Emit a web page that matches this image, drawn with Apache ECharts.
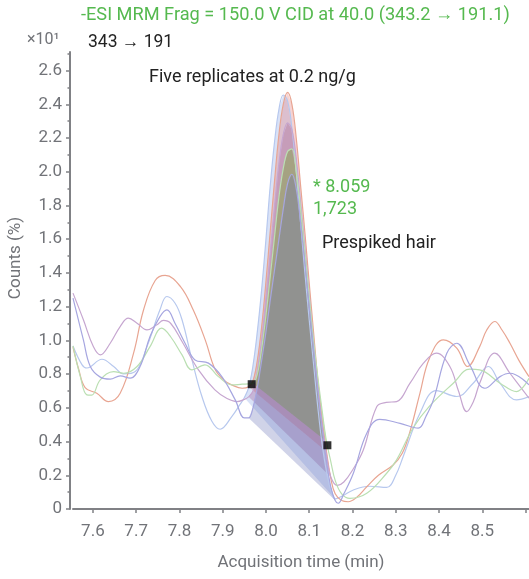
<!DOCTYPE html>
<html>
<head>
<meta charset="utf-8">
<style>
  html, body { margin: 0; padding: 0; background: #fff; }
  #chart-container { width: 529px; height: 579px; }
</style>
<script src="https://cdn.jsdelivr.net/npm/echarts@6/dist/echarts.min.js"></script>
</head>
<body>
<div id="chart-container"></div>
<script>
// five replicate traces, [acquisition time (min), counts (x10^1 %)]
var repRed = [
  [7.554, 0.96], [7.567, 0.83], [7.582, 0.72], [7.609, 0.686], [7.636, 0.637], [7.663, 0.686],
  [7.694, 0.924], [7.717, 1.18], [7.744, 1.355], [7.767, 1.385], [7.802, 1.32], [7.832, 1.18],
  [7.86, 1.0], [7.882, 0.83], [7.902, 0.766], [7.921, 0.736], [7.945, 0.716], [7.96, 0.725],
  [7.97, 0.76], [7.98, 0.88], [7.99, 1.08], [8.0, 1.35], [8.01, 1.65], [8.02, 1.95], [8.03, 2.22],
  [8.04, 2.4], [8.05, 2.47], [8.06, 2.4], [8.07, 2.2], [8.08, 1.92], [8.09, 1.64], [8.1, 1.34],
  [8.11, 1.05], [8.12, 0.76], [8.13, 0.52], [8.14, 0.34], [8.15, 0.18], [8.16, 0.09], [8.175, 0.05],
  [8.19, 0.043], [8.21, 0.07], [8.233, 0.132], [8.26, 0.2], [8.294, 0.261], [8.315, 0.33],
  [8.333, 0.46], [8.356, 0.687], [8.378, 0.894], [8.41, 1.003], [8.441, 0.954], [8.466, 0.845],
  [8.494, 0.963], [8.51, 1.06], [8.529, 1.112], [8.546, 1.06], [8.564, 0.983], [8.585, 0.88],
  [8.608, 0.785]
];
var repMauve = [
  [7.554, 1.28], [7.578, 1.122], [7.601, 0.963], [7.617, 0.914], [7.64, 0.983], [7.663, 1.082],
  [7.682, 1.132], [7.702, 1.102], [7.725, 1.062], [7.748, 1.092], [7.763, 1.118], [7.78, 1.1],
  [7.806, 0.993], [7.844, 0.825], [7.882, 0.706], [7.91, 0.655], [7.933, 0.637], [7.95, 0.65],
  [7.96, 0.665], [7.97, 0.7], [7.98, 0.82], [7.99, 1.0], [8.0, 1.25], [8.01, 1.52], [8.02, 1.8],
  [8.03, 2.05], [8.04, 2.22], [8.05, 2.29], [8.06, 2.25], [8.07, 2.08], [8.08, 1.82], [8.09, 1.55],
  [8.1, 1.27], [8.11, 0.98], [8.12, 0.72], [8.13, 0.5], [8.14, 0.32], [8.15, 0.19], [8.165, 0.14],
  [8.18, 0.16], [8.2, 0.23], [8.225, 0.35], [8.256, 0.607], [8.278, 0.632], [8.302, 0.637],
  [8.333, 0.746], [8.364, 0.865], [8.394, 0.924], [8.425, 0.845], [8.445, 0.7], [8.464, 0.578],
  [8.48, 0.64], [8.494, 0.746], [8.529, 0.924], [8.564, 0.805], [8.608, 0.657]
];
var repIndigo = [
  [7.554, 1.25], [7.578, 1.003], [7.594, 0.845], [7.617, 0.782], [7.64, 0.77], [7.663, 0.789],
  [7.686, 0.776], [7.709, 0.845], [7.732, 1.023], [7.755, 1.141], [7.771, 1.181], [7.79, 1.1],
  [7.813, 0.983], [7.836, 0.884], [7.867, 0.865], [7.898, 0.785], [7.929, 0.647], [7.95, 0.54],
  [7.96, 0.54], [7.97, 0.6], [7.98, 0.72], [7.99, 0.88], [8.0, 1.05], [8.01, 1.24], [8.02, 1.42],
  [8.03, 1.6], [8.04, 1.78], [8.05, 1.93], [8.06, 1.985], [8.07, 1.9], [8.08, 1.7], [8.09, 1.46],
  [8.1, 1.2], [8.11, 0.95], [8.12, 0.7], [8.13, 0.47], [8.14, 0.28], [8.15, 0.13], [8.16, 0.05],
  [8.167, 0.034], [8.18, 0.09], [8.202, 0.212], [8.233, 0.449], [8.263, 0.532], [8.31, 0.508],
  [8.352, 0.479], [8.37, 0.55], [8.387, 0.647], [8.418, 0.924], [8.441, 0.983], [8.471, 0.855],
  [8.506, 0.716], [8.541, 0.785], [8.564, 0.805], [8.608, 0.736]
];
var repBlue = [
  [7.554, 0.967], [7.575, 0.855], [7.586, 0.836], [7.621, 0.888], [7.648, 0.845], [7.671, 0.801],
  [7.698, 0.815], [7.725, 0.963], [7.755, 1.181], [7.771, 1.26], [7.79, 1.22], [7.806, 1.122],
  [7.829, 0.884], [7.852, 0.667], [7.875, 0.52], [7.894, 0.473], [7.921, 0.548], [7.94, 0.62],
  [7.95, 0.66], [7.96, 0.72], [7.97, 0.85], [7.98, 1.05], [7.99, 1.3], [8.0, 1.6], [8.01, 1.92],
  [8.02, 2.18], [8.03, 2.37], [8.04, 2.455], [8.05, 2.42], [8.06, 2.26], [8.07, 2.0], [8.08, 1.7],
  [8.09, 1.4], [8.1, 1.12], [8.11, 0.86], [8.12, 0.6], [8.13, 0.38], [8.14, 0.22], [8.15, 0.11],
  [8.16, 0.06], [8.175, 0.075], [8.202, 0.113], [8.24, 0.135], [8.279, 0.128], [8.3, 0.2],
  [8.317, 0.31], [8.356, 0.568], [8.394, 0.702], [8.441, 0.667], [8.479, 0.746], [8.514, 0.845],
  [8.541, 0.746], [8.579, 0.647], [8.608, 0.667]
];
var repGreen = [
  [7.554, 0.967], [7.571, 0.785], [7.586, 0.677], [7.597, 0.675], [7.617, 0.766], [7.648, 0.815],
  [7.671, 0.805], [7.702, 0.845], [7.732, 0.963], [7.759, 1.072], [7.78, 1.02], [7.806, 0.914],
  [7.829, 0.825], [7.859, 0.855], [7.89, 0.785], [7.921, 0.736], [7.945, 0.74], [7.96, 0.742],
  [7.97, 0.745], [7.98, 0.8], [7.99, 0.95], [8.0, 1.15], [8.01, 1.38], [8.02, 1.62], [8.03, 1.85],
  [8.04, 2.02], [8.05, 2.12], [8.06, 2.135], [8.07, 2.0], [8.08, 1.78], [8.09, 1.52], [8.1, 1.26],
  [8.11, 1.0], [8.12, 0.78], [8.13, 0.58], [8.14, 0.4], [8.15, 0.28], [8.16, 0.17], [8.175, 0.09],
  [8.194, 0.063], [8.233, 0.093], [8.279, 0.212], [8.302, 0.291], [8.34, 0.48], [8.377, 0.607],
  [8.433, 0.746], [8.471, 0.829], [8.494, 0.825], [8.541, 0.746], [8.579, 0.696], [8.608, 0.775]
];

// integration window (start, end) of each replicate
var windowRed = [7.96, 8.14];
var windowMauve = [7.96, 8.15];
var windowIndigo = [7.96, 8.167];
var windowBlue = [7.95, 8.16];
var windowGreen = [7.97, 8.14];

// integration start / end marks
var peakMarks = [[7.967, 0.74], [8.142, 0.378]];

var xTicks = [7.6, 7.7, 7.8, 7.9, 8.0, 8.1, 8.2, 8.3, 8.4, 8.5, 8.6];
var xLabels = [7.6, 7.7, 7.8, 7.9, 8.0, 8.1, 8.2, 8.3, 8.4, 8.5];
var yTicks = [0, 0.2, 0.4, 0.6, 0.8, 1.0, 1.2, 1.4, 1.6, 1.8, 2.0, 2.2, 2.4, 2.6];

// draw order for the fills: blue, red, mauve, green, indigo
var traces = [repBlue, repRed, repMauve, repGreen, repIndigo];
var windows = [windowBlue, windowRed, windowMauve, windowGreen, windowIndigo];
var lineColors = ['#b7c8ee', '#e8a592', '#c6a6d0', '#badfb2', '#a6a6e0'];
var fillColors = [
  'rgba(120,150,225,0.28)',
  'rgba(225,110,110,0.3)',
  'rgba(150,80,140,0.3)',
  'rgba(110,170,40,0.38)',
  'rgba(100,110,180,0.3)'
];

var gray = '#717378';
var font = 'Roboto';

var dom = document.getElementById('chart-container');
var myChart = echarts.init(dom, null, { renderer: 'canvas' });

var series = [];

series.push({
  type: 'custom',
  coordinateSystem: 'cartesian2d',
  silent: true,
  z: 1,
  data: windows.map(function (w, i) { return [w[0], w[1], i]; }),
  encode: { x: [0, 1] },
  renderItem: function (params, api) {
    var i = params.dataIndex;
    var w = windows[i];
    var pts = traces[i]
      .filter(function (p) { return p[0] >= w[0] - 1e-9 && p[0] <= w[1] + 1e-9; })
      .map(function (p) { return api.coord(p); });
    return {
      type: 'polygon',
      shape: { points: pts },
      style: { fill: fillColors[i], stroke: null }
    };
  }
});

traces.forEach(function (tr, i) {
  series.push({
    type: 'line',
    data: tr,
    smooth: 0.4,
    symbol: 'none',
    z: 2,
    lineStyle: { color: lineColors[i], width: 1.2 }
  });
});

series.push({
  type: 'scatter',
  data: peakMarks,
  symbol: 'rect',
  symbolSize: 8,
  z: 5,
  itemStyle: { color: '#000' }
});

var option = {
  animation: false,
  grid: { left: 73, right: 0, top: 52, bottom: 70 },
  xAxis: {
    type: 'value',
    min: 7.554,
    max: 8.608,
    splitNumber: 10,
    offset: 6,
    name: 'Acquisition time (min)',
    nameLocation: 'middle',
    nameGap: 39,
    nameTextStyle: { color: gray, fontSize: 17, fontFamily: font },
    axisLine: { lineStyle: { color: '#808185', width: 2 } },
    axisTick: { show: true, length: 4, customValues: xTicks, lineStyle: { color: '#808185', width: 1.5 } },
    axisLabel: {
      customValues: xLabels,
      color: gray, fontSize: 17, fontFamily: font, margin: 8,
      formatter: function (v) { return v.toFixed(1); }
    },
    splitLine: { show: false }
  },
  yAxis: {
    type: 'value',
    min: 0,
    max: 2.71,
    interval: 0.2,
    offset: 3,
    axisLine: { show: true, lineStyle: { color: '#808185', width: 2 } },
    axisTick: { show: true, length: 4, customValues: yTicks, lineStyle: { color: '#808185', width: 1.5 } },
    minorTick: { show: true, splitNumber: 2, length: 2.5, lineStyle: { color: '#808185', width: 1.5 } },
    axisLabel: {
      customValues: yTicks,
      color: gray, fontSize: 17, fontFamily: font, margin: 8,
      formatter: function (v) { return v === 0 ? '0' : v.toFixed(1); }
    },
    splitLine: { show: false }
  },
  graphic: [
    { type: 'text', x: 81, y: 15, style: { text: '-ESI MRM Frag = 150.0 V CID at 40.0 (343.2 \u2192 191.1)', fill: '#55b94f', font: '18.2px Roboto', verticalAlign: 'middle' } },
    { type: 'text', x: 27, y: 40, style: { text: '\u00d710\u00b9', fill: gray, font: '16px Roboto', verticalAlign: 'middle' } },
    { type: 'text', x: 88, y: 43, style: { text: '343 \u2192 191', fill: '#222', font: '17.5px Roboto', verticalAlign: 'middle' } },
    { type: 'text', x: 149, y: 77, style: { text: 'Five replicates at 0.2 ng/g', fill: '#222', font: '18px Roboto', verticalAlign: 'middle' } },
    { type: 'text', x: 313, y: 187, style: { text: '* 8.059', fill: '#55b94f', font: '18px Roboto', verticalAlign: 'middle' } },
    { type: 'text', x: 313, y: 209, style: { text: '1,723', fill: '#55b94f', font: '18px Roboto', verticalAlign: 'middle' } },
    { type: 'text', x: 322, y: 243, style: { text: 'Prespiked hair', fill: '#222', font: '18px Roboto', verticalAlign: 'middle' } },
    { type: 'text', x: 16, y: 258, rotation: Math.PI / 2, style: { text: 'Counts (%)', fill: gray, font: '17px Roboto', align: 'center', verticalAlign: 'middle' } }
  ],
  series: series
};

myChart.setOption(option);
window.addEventListener('resize', myChart.resize);
</script>
</body>
</html>
